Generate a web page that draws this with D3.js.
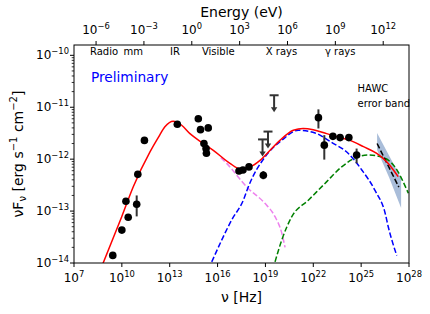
<!DOCTYPE html>
<html lang="en">
  <head>
    <meta charset="UTF-8" />
    <title>SED</title>
    <script src="https://d3js.org/d3.v7.min.js"></script>
    <style>
      body { margin: 0; background: #fff; }
      svg text { font-family: "DejaVu Sans", sans-serif; fill: #000; }
    </style>
  </head>
  <body>
    <svg width="430" height="314"></svg>
    <script>
      // observed points (Hz, erg s^-1 cm^-2)
      const obsNu = [2.7e9, 1.0e10, 1.8e10, 2.5e10, 8.5e10, 1.0e11, 2.6e11, 3.0e13,
        6.2e14, 8.5e14, 2.6e15, 1.4e15, 1.9e15, 2.0e15, 2.2e17, 3.9e17, 9.3e17,
        7.4e18, 2.1e22, 4.9e22, 1.7e23, 4.8e23, 1.7e24, 5.2e24];
      const obsF = [1.4e-14, 4.3e-14, 1.55e-13, 7.6e-14, 1.35e-13, 5.1e-13, 2.3e-12, 4.7e-12,
        6.0e-12, 3.7e-12, 4.0e-12, 2.0e-12, 1.6e-12, 1.3e-12, 5.9e-13, 6.2e-13, 7.1e-13,
        4.9e-13, 6.3e-12, 1.86e-12, 2.75e-12, 2.6e-12, 2.6e-12, 1.2e-12];
      const obsHi = [null, null, null, null, 2.0e-13, null, null, null,
        null, null, null, null, null, null, null, null, null,
        5.9e-13, 9.1e-12, 2.9e-12, null, null, null, 1.6e-12];
      const obsLo = [null, null, null, null, 7.9e-14, null, null, null,
        null, null, null, null, null, null, null, null, null,
        4.1e-13, 3.9e-12, 9.8e-13, null, null, null, 8.3e-13];

      // upper limits
      const ulNu = [3.5e19, 1.45e19, 6.6e18];
      const ulF = [1.7e-11, 3.4e-12, 2.4e-12];

      // model components
      const totNu = [6.3e8, 9.8e9, 5.2e10, 5.8e11, 1.9e12, 5.0e12, 1.66e13, 5.6e13, 1.86e14,
        1.3e15, 5.4e15, 6.0e16, 2.6e17, 1.07e18, 4.6e18, 1.95e19, 8.1e19, 5.6e20, 2.3e21,
        1.0e22, 6.9e22, 4.8e23, 2.0e24, 1.4e25, 9.5e25, 4.0e26, 1.05e27, 2.1e27];
      const totF = [9.5e-15, 7.8e-14, 2.95e-13, 1.38e-12, 2.6e-12, 4.2e-12, 5.4e-12, 4.5e-12, 3.1e-12,
        2.0e-12, 1.48e-12, 8.3e-13, 6.5e-13, 7.1e-13, 9.5e-13, 1.48e-12, 2.3e-12, 3.6e-12, 3.9e-12,
        3.7e-12, 3.1e-12, 2.6e-12, 2.3e-12, 1.74e-12, 1.29e-12, 8.9e-13, 6.2e-13, 4.6e-13];

      const blueNu = [4.3e15, 7.8e16, 4.1e17, 8.5e17, 9.3e18, 1.05e20, 1.15e21, 1.29e22,
        1.41e23, 1.58e24, 1.1e25, 7.4e25, 3.2e26, 5.0e26, 1.7e27];
      const blueF = [1.05e-14, 6.8e-14, 1.62e-13, 2.95e-13, 1.1e-12, 2.3e-12, 3.6e-12, 3.2e-12,
        2.1e-12, 1.29e-12, 6.2e-13, 2.5e-13, 9.1e-14, 5.0e-14, 1.4e-14];

      const pinkNu = [1.6e16, 3.7e16, 8.1e17, 9.3e18, 4.0e19, 1.05e20, 1.7e20];
      const pinkF = [1.07e-12, 8.3e-13, 2.75e-13, 1.41e-13, 7.8e-14, 3.8e-14, 2.0e-14];

      const greenNu = [4.0e19, 1.05e20, 4.5e20, 4.9e21, 5.4e22, 6.0e23, 4.2e24, 2.8e25,
        1.95e26, 1.3e27, 9.1e27];
      const greenF = [1.05e-14, 2.75e-14, 7.8e-14, 1.62e-13, 3.4e-13, 7.1e-13, 1.05e-12, 1.2e-12,
        1.1e-12, 7.1e-13, 2.2e-13];

      // HAWC error band and best fit
      const hawcNu = [1.0e26, 5.6e26, 3.2e27];
      const hawcHi = [3.2e-12, 1.18e-12, 4.3e-13];
      const hawcLo = [1.5e-12, 4.5e-13, 1.15e-13];
      const hawcFitNu = [1.0e26, 2.3e27];
      const hawcFitF = [2.0e-12, 2.9e-13];

      // axis ticks and labels
      const xTicks = [1e7, 1e10, 1e13, 1e16, 1e19, 1e22, 1e25, 1e28];
      const yTicks = [1e-14, 1e-13, 1e-12, 1e-11, 1e-10];
      const eTicks = [1e-6, 1e-3, 1e0, 1e3, 1e6, 1e9, 1e12];
      const bandNames = ["Radio", "mm", "IR", "Visible", "X rays", "\u03b3 rays"];
      const bandNu = [1e8, 1.25e10, 1.05e13, 1.05e15, 1.05e19, 5.4e22];

      const hPlanck = 4.135667e-15; // eV s
      const L = 74, R = 409, T = 45, B = 263;

      const svg = d3.select("svg");
      const x = d3.scaleLog().domain([1e7, 1e28]).range([L, R]);
      const y = d3.scaleLog().domain([1e-14, 1.58e-10]).range([B, T]);
      const xE = d3.scaleLog().domain([1e7 * hPlanck, 1e28 * hPlanck]).range([L, R]);

      svg.append("clipPath").attr("id", "clip")
        .append("rect").attr("x", L).attr("y", T).attr("width", R - L).attr("height", B - T);

      const plot = svg.append("g").attr("clip-path", "url(#clip)");

      // band
      const area = d3.area()
        .x((d, i) => x(hawcNu[i]))
        .y0((d, i) => y(hawcLo[i]))
        .y1((d, i) => y(hawcHi[i]));
      plot.append("path").attr("d", area(hawcNu))
        .attr("fill", "#a9bdd9");

      function curve(nu, f, color, dash, width) {
        const line = d3.line()
          .x((d, i) => x(nu[i]))
          .y((d, i) => y(f[i]))
          .curve(d3.curveMonotoneX);
        plot.append("path").attr("d", line(nu))
          .attr("fill", "none").attr("stroke", color)
          .attr("stroke-width", width)
          .attr("stroke-dasharray", dash);
      }
      curve(pinkNu, pinkF, "violet", "5.5,2.4", 1.5);
      curve(blueNu, blueF, "blue", "5.5,2.4", 1.5);
      curve(greenNu, greenF, "green", "5.5,2.4", 1.5);
      curve(hawcFitNu, hawcFitF, "black", "5.5,2.4", 1.5);
      curve(totNu, totF, "red", null, 1.5);

      // error bars
      obsNu.forEach((nu, i) => {
        if (obsHi[i] == null) return;
        plot.append("line")
          .attr("x1", x(nu)).attr("x2", x(nu))
          .attr("y1", y(obsHi[i])).attr("y2", y(obsLo[i]))
          .attr("stroke", "#333").attr("stroke-width", 2);
      });

      // upper limits
      ulNu.forEach((nu, i) => {
        const cx = x(nu), top = y(ulF[i]), tip = top + 17;
        const g = plot.append("g").attr("stroke", "#333").attr("fill", "#333");
        g.append("line").attr("x1", cx - 4.5).attr("x2", cx + 4.5)
          .attr("y1", top).attr("y2", top).attr("stroke-width", 2);
        g.append("line").attr("x1", cx).attr("x2", cx)
          .attr("y1", top).attr("y2", tip - 3).attr("stroke-width", 2);
        g.append("path").attr("stroke", "none")
          .attr("d", `M${cx - 3.2},${tip - 5}L${cx + 3.2},${tip - 5}L${cx},${tip}Z`);
      });

      plot.selectAll("circle.obs").data(obsNu).enter().append("circle")
        .attr("class", "obs")
        .attr("cx", d => x(d))
        .attr("cy", (d, i) => y(obsF[i]))
        .attr("r", 3.8).attr("fill", "black");

      // texts inside
      bandNames.forEach((t, i) => {
        svg.append("text").attr("x", x(bandNu[i])).attr("y", y(1e-10))
          .attr("font-size", 10).text(t);
      });
      svg.append("text").attr("x", x(1e8) + 1).attr("y", y(3.1e-11))
        .attr("font-size", 13.7).style("fill", "blue").text("Preliminary");
      svg.append("text").attr("x", x(6e24)).attr("y", y(2e-11))
        .attr("font-size", 10).text("HAWC");
      svg.append("text").attr("x", x(6e24)).attr("y", y(1e-11))
        .attr("font-size", 10).text("error band");

      // frame
      svg.append("rect").attr("x", L).attr("y", T).attr("width", R - L).attr("height", B - T)
        .attr("fill", "none").attr("stroke", "black").attr("stroke-width", 1);

      function pow10(sel, v, size) {
        const e = Math.round(Math.log10(v));
        sel.append("tspan").text("10");
        sel.append("tspan").attr("font-size", size * 0.7).attr("dy", -size * 0.42)
          .text(String(e).replace("-", "\u2212"));
      }

      // bottom axis
      xTicks.forEach(v => {
        const px = x(v);
        svg.append("line").attr("x1", px).attr("x2", px).attr("y1", B).attr("y2", B + 4)
          .attr("stroke", "black");
        svg.append("text").attr("x", px).attr("y", 282).attr("text-anchor", "middle")
          .attr("font-size", 12).call(pow10, v, 12);
      });

      // top axis
      eTicks.forEach(v => {
        const px = xE(v);
        svg.append("line").attr("x1", px).attr("x2", px).attr("y1", T).attr("y2", T - 4)
          .attr("stroke", "black");
        svg.append("text").attr("x", px).attr("y", 34).attr("text-anchor", "middle")
          .attr("font-size", 12).call(pow10, v, 12);
      });

      // left axis
      yTicks.forEach(v => {
        const py = y(v);
        svg.append("line").attr("x1", L).attr("x2", L - 4).attr("y1", py).attr("y2", py)
          .attr("stroke", "black");
        svg.append("text").attr("x", 69).attr("y", py + 4).attr("text-anchor", "end")
          .attr("font-size", 12).call(pow10, v, 12);
        for (let k = 2; k < 10; k++) {
          const m = y(v * k);
          if (m < T) continue;
          svg.append("line").attr("x1", L).attr("x2", L - 2.3).attr("y1", m).attr("y2", m)
            .attr("stroke", "black").attr("stroke-width", 0.8);
        }
      });

      // axis titles
      svg.append("text").attr("x", (L + R) / 2).attr("y", 17).attr("text-anchor", "middle")
        .attr("font-size", 14).text("Energy (eV)");
      svg.append("text").attr("x", (L + R) / 2).attr("y", 302).attr("text-anchor", "middle")
        .attr("font-size", 14).text("\u03bd [Hz]");

      const yl = svg.append("text")
        .attr("transform", `translate(23,${(T + B) / 2}) rotate(-90)`)
        .attr("text-anchor", "middle").attr("font-size", 14);
      yl.append("tspan").text("\u03bdF");
      yl.append("tspan").attr("font-size", 10).attr("dy", 3).text("\u03bd");
      yl.append("tspan").attr("dy", -3).text(" [erg s");
      yl.append("tspan").attr("font-size", 10).attr("dy", -6).text("\u22121");
      yl.append("tspan").attr("dy", 6).text(" cm");
      yl.append("tspan").attr("font-size", 10).attr("dy", -6).text("\u22122");
      yl.append("tspan").attr("dy", 6).text("]");
    </script>
  </body>
</html>
